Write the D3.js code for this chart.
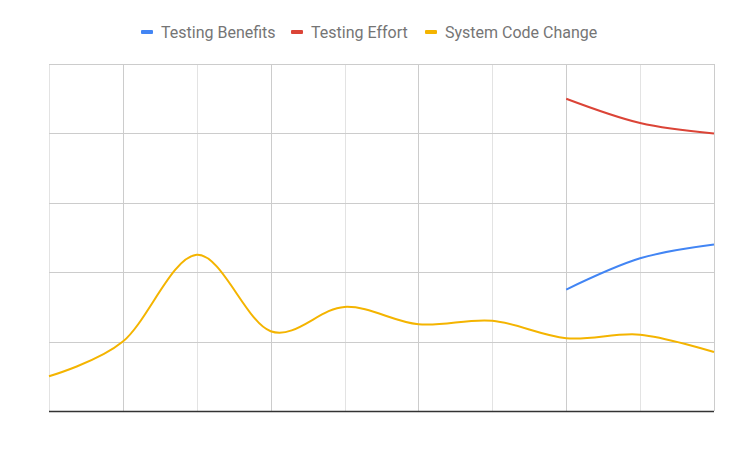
<!DOCTYPE html>
<html>
<head>
<meta charset="utf-8">
<script src="https://cdn.jsdelivr.net/npm/d3@7"></script>
<style>
  body { margin: 0; background: #fff; }
  text { font-family: Roboto, sans-serif; }
</style>
</head>
<body>
<div id="chart"></div>
<script>
// data (no axis labels shown, index 0..9)
let categories = [0, 1, 2, 3, 4, 5, 6, 7, 8, 9];
let testingBenefits = [null, null, null, null, null, null, null, 1.75, 2.2, 2.4];
let testingEffort = [null, null, null, null, null, null, null, 4.5, 4.15, 4.0];
let systemCodeChange = [0.5, 1.0, 2.25, 1.15, 1.5, 1.25, 1.3, 1.05, 1.1, 0.85];
let yTicks = [0, 1, 2, 3, 4, 5];

let series = [
    {name: "Testing Benefits", color: "#4285f4", values: testingBenefits},
    {name: "Testing Effort", color: "#db4437", values: testingEffort},
    {name: "System Code Change", color: "#f4b400", values: systemCodeChange}
];

// set the dimensions of the canvas
let W = 737, H = 455;
let margin = {top: 64, right: 23, bottom: 44, left: 49},
    width = W - margin.left - margin.right,
    height = H - margin.top - margin.bottom;

let x = d3.scaleLinear().domain([0, categories.length - 1]).range([0, width]);
let y = d3.scaleLinear().domain([0, 5]).range([height, 0]);

let svg = d3.select("#chart").append("svg")
    .attr("width", W)
    .attr("height", H);

let g = svg.append("g")
    .attr("transform", "translate(" + margin.left + "," + margin.top + ")");

// vertical grid, odd ones a bit darker
g.append("g")
    .selectAll("line")
    .data(categories)
    .enter()
    .append("line")
    .attr("x1", d => Math.round(x(d)) + 0.5)
    .attr("x2", d => Math.round(x(d)) + 0.5)
    .attr("y1", 0)
    .attr("y2", height)
    .attr("stroke", d => d % 2 === 1 ? "#cccccc" : "#e3e3e3")
    .attr("stroke-width", 1);

// horizontal grid
g.append("g")
    .selectAll("line")
    .data(yTicks.slice(1))
    .enter()
    .append("line")
    .attr("x1", 0)
    .attr("x2", width)
    .attr("y1", d => Math.round(y(d)) + 0.5)
    .attr("y2", d => Math.round(y(d)) + 0.5)
    .attr("stroke", "#cccccc")
    .attr("stroke-width", 1);

// baseline
g.append("line")
    .attr("x1", 0)
    .attr("x2", width)
    .attr("y1", height + 0.5)
    .attr("y2", height + 0.5)
    .attr("stroke", "#333333")
    .attr("stroke-width", 1.3);

// lines
let line = d3.line()
    .x(d => x(d.i))
    .y(d => y(d.v))
    .curve(d3.curveCardinal.tension(0));

g.selectAll(".series")
    .data(series)
    .enter()
    .append("path")
    .attr("class", "series")
    .attr("fill", "none")
    .attr("stroke", d => d.color)
    .attr("stroke-width", 2)
    .attr("d", d => line(d.values.map((v, i) => ({i: categories[i], v: v}))
        .filter(p => p.v !== null)));

// legend
let legendX = [141, 291, 425];
let legend = svg.append("g");
let item = legend.selectAll("g")
    .data(series)
    .enter()
    .append("g")
    .attr("transform", (d, i) => "translate(" + legendX[i] + ",32)");
item.append("rect")
    .attr("x", 0)
    .attr("y", -2)
    .attr("width", 12)
    .attr("height", 4)
    .attr("rx", 1)
    .attr("fill", d => d.color);
item.append("text")
    .attr("x", 20)
    .attr("y", 0)
    .attr("dy", "0.35em")
    .attr("fill", "#757575")
    .style("font-size", "16px")
    .text(d => d.name);
</script>
</body>
</html>
